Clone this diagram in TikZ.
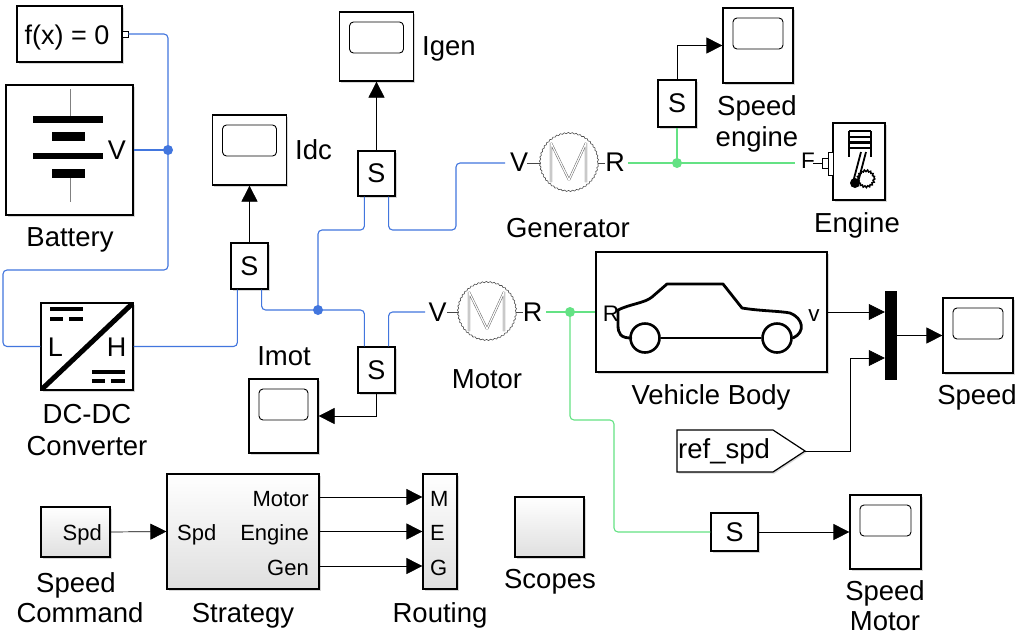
\documentclass[tikz,border=0pt]{standalone}
\usepackage{fontspec}
\setmainfont{Liberation Sans}
\usetikzlibrary{arrows.meta,shadows,decorations.pathmorphing}
\definecolor{physblue}{RGB}{66,118,222}
\definecolor{mechgreen}{RGB}{100,226,132}
\begin{document}
\begin{tikzpicture}[x=1pt,y=-1pt,
  blk/.style={draw, line width=1.2pt, fill=white, inner sep=0pt,
    drop shadow={shadow xshift=1.5pt,shadow yshift=-1.5pt,opacity=0.3}},
  grad/.style={blk, top color=white, bottom color=gray!25},
  scopeblk/.style={blk, path picture={\draw[line width=0.9pt, rounded corners=4pt]
      ([xshift=10pt,yshift=-10pt]path picture bounding box.north west) rectangle
      ([xshift=-10pt,yshift=-41pt]path picture bounding box.north east);}},
  sens/.style={blk, font=\fontsize{27}{30}\selectfont},
  lbl/.style={anchor=base, inner sep=0pt, font=\fontsize{27.5}{31}\selectfont},
  plbl/.style={anchor=base, inner sep=0pt, font=\fontsize{27}{30}\selectfont},
  mlbl/.style={anchor=base, inner sep=0pt, font=\fontsize{22.5}{26}\selectfont},
  slbl/.style={anchor=base, inner sep=0pt, font=\fontsize{22}{26}\selectfont},
  phys/.style={draw=physblue, line width=1.1pt, rounded corners=4pt},
  mech/.style={draw=mechgreen, line width=1.1pt, rounded corners=4pt},
  sig/.style={draw=black, line width=0.7pt, -{Triangle[length=16pt,width=16pt]}},
  mot/.style={circle, draw=gray!60!black, line width=0.6pt, minimum size=58pt, inner sep=0pt,
    decorate, decoration={snake, segment length=4pt, amplitude=0.6pt}},
  stub/.style={draw=gray!55!black, line width=0.6pt},
  mglyph/.pic={\draw[gray!80!black, line width=0.5pt, double=white, double distance=1.2pt, line join=bevel]
      (-18,19) -- (-18,-20) -- (0,17) -- (17,-20) -- (17,19);}
]
\fill[white] (0,0) rectangle (1023,638);
\useasboundingbox (0,0) rectangle (1023,638);

% ---------- constraint and battery ----------
\node[blk, minimum width=105pt, minimum height=56pt] (fx) at (69.5,34) {};
\node[plbl] (fxTxt) at (67,44) {f(x) = 0};
\node[draw, line width=0.8pt, fill=white, minimum size=6pt, inner sep=0pt] (fxPort) at (125,34) {};

\node[blk, minimum width=127pt, minimum height=130pt] (bat) at (69.5,150) {};
\draw[gray, line width=1pt] (70,89) -- (70,119) (70,173) -- (70,202);
\draw[line width=7pt] (33,119) -- (103,119);
\draw[line width=9pt] (52,136.5) -- (85,136.5);
\draw[line width=6.5pt] (33,156) -- (103,156);
\draw[line width=9pt] (52,173) -- (85,173);
\node[plbl] (batV) at (117,159) {V};
\node[lbl] (batLbl) at (70,246) {Battery};

% ---------- DC-DC converter ----------
\node[blk, minimum width=92pt, minimum height=87pt] (dcdc) at (87,346.5) {};
\begin{scope}
  \clip (41,303) rectangle (133,390);
  \draw[line width=5pt] (41,390) -- (133,303);
\end{scope}
\draw[line width=3.5pt] (50,309) -- (83,309) (50,319) -- (63,319) (69,319) -- (83,319)
  (92,372) -- (125,372) (92,381) -- (105,381) (111,381) -- (125,381);
\node[plbl] (dcL) at (55.5,356) {L};
\node[plbl] (dcH) at (116.5,356) {H};
\node[lbl] (dcLbl1) at (87,423) {DC-DC};
\node[lbl] (dcLbl2) at (87,455) {Converter};

% ---------- current sensors and scopes ----------
\node[sens, minimum width=37pt, minimum height=46pt] (idcS) at (249.5,266) {S};
\node[sens, minimum width=37pt, minimum height=45pt] (igenS) at (376.5,173.5) {S};
\node[sens, minimum width=37pt, minimum height=46pt] (imotS) at (376.5,370) {S};
\node[sens, minimum width=38pt, minimum height=47pt] (speS) at (677,103.5) {S};
\node[sens, minimum width=47pt, minimum height=38pt] (smS) at (734.5,532) {S};

\node[scopeblk, minimum width=74pt, minimum height=69pt] (igenScope) at (376.5,46.5) {};
\node[scopeblk, minimum width=74pt, minimum height=70pt] (idcScope) at (249.5,150) {};
\node[scopeblk, minimum width=70pt, minimum height=75pt] (speScope) at (758,45.5) {};
\node[scopeblk, minimum width=69pt, minimum height=74pt] (imotScope) at (283.5,416) {};
\node[scopeblk, minimum width=70pt, minimum height=75pt] (speedScope) at (978,335.5) {};
\node[scopeblk, minimum width=71pt, minimum height=74pt] (smScope) at (885.5,532) {};

\node[lbl, anchor=base west] (idcLbl) at (295,159) {Idc};
\node[lbl, anchor=base west] (igenLbl) at (422,55) {Igen};
\node[lbl] (imotLbl) at (284,365) {Imot};
\node[lbl] (speLbl1) at (757,115) {Speed};
\node[lbl] (speLbl2) at (757,146) {engine};
\node[lbl] (speedLbl) at (977,404) {Speed};
\node[lbl] (smLbl1) at (885,600) {Speed};
\node[lbl] (smLbl2) at (885,630) {Motor};

% sensor ports
\coordinate (idcL) at ([xshift=7pt]idcS.south west);
\coordinate (idcR) at ([xshift=-7pt]idcS.south east);
\coordinate (igenL) at ([xshift=7pt]igenS.south west);
\coordinate (igenR) at ([xshift=-7pt]igenS.south east);
\coordinate (imotL) at ([xshift=7pt]imotS.north west);
\coordinate (imotR) at ([xshift=-7pt]imotS.north east);

% ---------- generator and motor ----------
\node[mot] (gen) at (569,163) {};
\pic at (gen.center) {mglyph};
\node[plbl] (genV) at (519,171) {V};
\node[plbl] (genR) at (615,171) {R};
\draw[stub] (527,163) -- (gen.west) (gen.east) -- (605,163);
\coordinate (genVp) at (505,163);
\coordinate (genRp) at (628,163);
\node[lbl] (genLbl) at (568,237) {Generator};

\node[mot] (mot) at (487,312) {};
\pic at (mot.center) {mglyph};
\node[plbl] (motV) at (437.5,321) {V};
\node[plbl] (motR) at (532.5,321) {R};
\draw[stub] (447,312) -- (mot.west) (mot.east) -- (523,312);
\coordinate (motVp) at (425,312);
\coordinate (motRp) at (546,312);
\node[lbl] (motLbl) at (487,388) {Motor};

% ---------- engine ----------
\node[blk, minimum width=52pt, minimum height=77pt] (eng) at (859,161.5) {};
\node[mlbl] (engF) at (808,168) {F};
\draw[line width=0.9pt] (813,163) -- (822,163);
\draw[line width=0.9pt, fill=white] (822,158) rectangle (828,168);
\draw[line width=0.9pt, fill=white] (828,152) rectangle (833,175);
\coordinate (engFp) at (795,163);
\draw[line width=1.4pt] (849,131) -- (871,131) (849,137) -- (871,137) (849,148) -- (871,148)
  (849,131) -- (849,157) (871,131) -- (871,157);
\draw[line width=3.5pt] (849,142.5) -- (871,142.5);
\draw[line width=1.8pt] (861,152) -- (852,186) (866,152) -- (857,186);
\draw[line width=1.5pt, decorate, decoration={snake, segment length=3pt, amplitude=0.8pt}] (866,178) circle (8);
\fill (855,183) circle (5);
\node[lbl] (engLbl) at (857,232) {Engine};

% ---------- vehicle body ----------
\node[blk, minimum width=231pt, minimum height=120pt] (veh) at (711.5,312) {};
\draw[line width=2.8pt, line join=round, line cap=round]
  (631,338) .. controls (621,338) and (618,334) .. (618,325) -- (618,310)
  .. controls (630,304) and (645,303) .. (652,297) -- (667,284) -- (723,284) -- (742,308)
  .. controls (760,311) and (780,311) .. (790,313)
  .. controls (803,318) and (806,332) .. (793,338);
\draw[line width=2.6pt] (645,338) circle (14.5) (777,338) circle (14.5);
\draw[line width=1.6pt] (661,338) -- (761,338);
\node[mlbl] (vehR) at (611,321) {R};
\node[mlbl] (vehv) at (814,321) {v};
\node[lbl] (vehLbl) at (711,404) {Vehicle Body};

% ---------- mux and reference ----------
\node[fill=black, minimum width=12pt, minimum height=89pt, inner sep=0pt] (mux) at (891,335.5) {};
\draw[line width=1.2pt, fill=white, drop shadow={shadow xshift=1.5pt,shadow yshift=-1.5pt,opacity=0.3}]
  (677,430) -- (773,430) -- (805,451) -- (773,472) -- (677,472) -- cycle;
\node[lbl, anchor=base west] (refTxt) at (678,458) {ref\_spd};
\coordinate (refTip) at (805,451);

% ---------- control blocks ----------
\node[grad, minimum width=69pt, minimum height=50pt] (spd) at (75.5,532) {};
\node[slbl, anchor=base east] (spdOut) at (102,540) {Spd};
\node[lbl] (spdLbl1) at (76,592) {Speed};
\node[lbl] (spdLbl2) at (80,622) {Command};

\node[grad, minimum width=152pt, minimum height=115pt] (strat) at (243,531.5) {};
\node[slbl, anchor=base west] (stIn) at (177,540) {Spd};
\node[slbl, anchor=base east] (stM) at (309,506) {Motor};
\node[slbl, anchor=base east] (stE) at (309,540) {Engine};
\node[slbl, anchor=base east] (stG) at (309,575) {Gen};
\node[lbl] (stLbl) at (243,622) {Strategy};

\node[grad, minimum width=34pt, minimum height=115pt] (rout) at (440,531.5) {};
\node[slbl, anchor=base west] (rM) at (430,506) {M};
\node[slbl, anchor=base west] (rE) at (430,540) {E};
\node[slbl, anchor=base west] (rG) at (430,575) {G};
\node[lbl] (routLbl) at (440,622) {Routing};

\node[grad, minimum width=69pt, minimum height=60pt] (scp) at (549.5,527) {};
\node[lbl] (scpLbl) at (550,588) {Scopes};

% ---------- electrical connections ----------
\coordinate (jBat) at (168,150);
\coordinate (jMid) at (318,310);
\draw[phys] (fxPort.east) -- (168,34) -- (168,270) -- (3,270) -- (3,346.5) -- (dcdc.west);
\draw[phys] (bat.east) -- (jBat);
\fill[physblue] (jBat) circle (5);
\draw[phys] (dcdc.east) -| (idcL);
\draw[phys] (idcR) |- (jMid) -| (imotL);
\draw[phys] (jMid) |- (340,230) -| (igenL);
\draw[phys] (igenR) |- (456,230) |- (genVp);
\draw[phys] (imotR) |- (motVp);
\fill[physblue] (jMid) circle (5);

% ---------- mechanical connections ----------
\coordinate (jGen) at (677,163);
\coordinate (jMot) at (570,312);
\draw[mech] (genRp) -- (engFp);
\draw[mech] (jGen) -- (speS.south);
\fill[mechgreen] (jGen) circle (5);
\draw[mech] (motRp) -- (veh.west);
\draw[mech] (jMot) |- (614,420) |- (smS.west);
\fill[mechgreen] (jMot) circle (5);

% ---------- signal connections ----------
\draw[sig] (idcS.north) -- (idcScope.south);
\draw[sig] (igenS.north) -- (igenScope.south);
\draw[sig] (imotS.south) |- (imotScope.east);
\draw[sig] (speS.north) |- (speScope.west);
\draw[sig] (veh.east) -- (veh.east -| mux.west);
\draw[sig] (refTip) -- (850,451) |- ([yshift=-22.5pt]mux.west);
\draw[sig] (mux.east) -- (speedScope.west);
\draw[sig] (smS.east) -- (smScope.west);
\draw[sig] (spd.east) -- (strat.west);
\draw[sig] ([yshift=34.5pt]strat.east) -- ([yshift=34.5pt]rout.west);
\draw[sig] (strat.east) -- (rout.west);
\draw[sig] ([yshift=-34.5pt]strat.east) -- ([yshift=-34.5pt]rout.west);
\end{tikzpicture}
\end{document}
